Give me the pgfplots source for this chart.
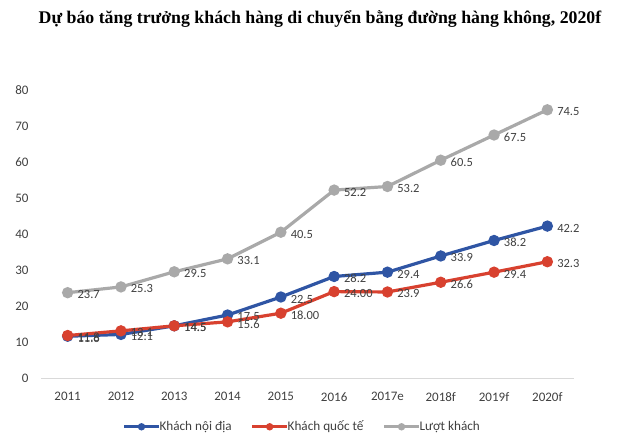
\documentclass[border=0pt]{standalone}
\usepackage{fontspec}
\setmainfont{Carlito}
\newfontfamily\titlefont{Liberation Serif}
\usepackage{pgfplots}
\pgfplotsset{compat=1.18}
\definecolor{cblue}{HTML}{2F55A4}
\definecolor{cred}{HTML}{D8412F}
\definecolor{cgray}{HTML}{A9A9A9}
\definecolor{ctext}{HTML}{404040}
\begin{document}
\begin{tikzpicture}
\path[use as bounding box] (0pt,0pt) rectangle (640pt,440pt);
\node[font=\titlefont\bfseries\fontsize{17.8}{20}\selectfont] at (320pt,421pt) {Dự báo tăng trưởng khách hàng di chuyển bằng đường hàng không, 2020f};
\begin{axis}[
  at={(41pt,62pt)}, anchor=south west,
  scale only axis, width=533pt, height=288pt,
  xmin=-0.5, xmax=9.5, ymin=0, ymax=80,
  ytick={0,10,...,80},
  xtick={0,...,9},
  xticklabels={2011,2012,2013,2014,2015,2016,2017e,2018f,2019f,2020f},
  axis lines=left,
  axis line style={-},
  y axis line style={draw=none},
  x axis line style={draw=black!15, line width=0.8pt},
  major tick length=0pt,
  tick label style={font=\fontsize{13}{15}\selectfont, text=ctext},
  /pgf/number format/assume math mode=true,
  xticklabel style={yshift=-11pt},
  yticklabel style={xshift=-9pt},
  every node near coord/.append style={font=\fontsize{12.5}{15}\selectfont, text=ctext, anchor=west, xshift=5pt, yshift=-2pt},
  legend style={at={(0.49,-0.135)}, anchor=north, draw=none, legend columns=3, font=\fontsize{13.2}{15}\selectfont, text=ctext, /tikz/every even column/.append style={column sep=17pt}, /tikz/every odd column/.append style={column sep=-3pt}},
  legend image code/.code={\draw[#1, line width=3pt] (0pt,0pt) -- (35pt,0pt); \fill[#1] (17.5pt,0pt) circle (2pt);},
  clip=false,
]
\addplot[cblue, line width=3.2pt, mark=*, mark size=4pt, nodes near coords, point meta=explicit symbolic] coordinates {
 (0,11.6)[11.6] (1,12.1)[12.1] (2,14.5)[14.5] (3,17.5)[17.5] (4,22.5)[22.5] (5,28.2)[28.2] (6,29.4)[29.4] (7,33.9)[33.9] (8,38.2)[38.2] (9,42.2)[42.2]};
\addlegendentry{Khách nội địa}
\addplot[cred, line width=3.2pt, mark=*, mark size=4pt, nodes near coords, point meta=explicit symbolic] coordinates {
 (0,11.8)[11.8] (1,13.1)[13.1] (2,14.5)[14.5] (3,15.6)[15.6] (4,18.0)[18.00] (5,24.0)[24.00] (6,23.9)[23.9] (7,26.6)[26.6] (8,29.4)[29.4] (9,32.3)[32.3]};
\addlegendentry{Khách quốc tế}
\addplot[cgray, line width=3.2pt, mark=*, mark size=4pt, nodes near coords, point meta=explicit symbolic] coordinates {
 (0,23.7)[23.7] (1,25.3)[25.3] (2,29.5)[29.5] (3,33.1)[33.1] (4,40.5)[40.5] (5,52.2)[52.2] (6,53.2)[53.2] (7,60.5)[60.5] (8,67.5)[67.5] (9,74.5)[74.5]};
\addlegendentry{Lượt khách}
\end{axis}
\end{tikzpicture}
\end{document}
